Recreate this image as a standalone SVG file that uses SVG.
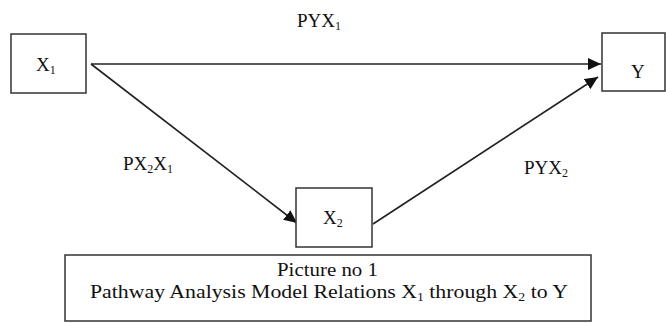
<svg xmlns="http://www.w3.org/2000/svg" width="666" height="323" viewBox="0 0 666 323">
<style>
.box{fill:#fff;stroke:#333;stroke-width:1.5}
.t{font-family:"Liberation Serif","Times New Roman",serif;font-size:19px;fill:#111}
.c{font-family:"Liberation Serif","Times New Roman",serif;font-size:19px;fill:#111}
.sub{font-size:12px}
.edge{stroke:#222;stroke-width:1.6;fill:none;marker-end:url(#ah)}
</style>
<defs>
<marker id="ah" markerUnits="userSpaceOnUse" markerWidth="14" markerHeight="12" refX="13" refY="6" orient="auto">
<path d="M0,0 L13,6 L0,12 z" fill="#111"/>
</marker>
</defs>
<rect width="666" height="323" fill="#fff"/>
<g id="connectors">
<line class="edge" x1="91" y1="64" x2="601" y2="64"/>
<line class="edge" x1="91" y1="64" x2="297" y2="223"/>
<line class="edge" x1="373" y1="224" x2="598" y2="77"/>
<text class="t" x="297" y="27">PYX<tspan class="sub" dy="3">1</tspan></text>
<text class="t" x="123" y="170">PX<tspan class="sub" dy="3">2</tspan><tspan dy="-3">X</tspan><tspan class="sub" dy="3">1</tspan></text>
<text class="t" x="524" y="174">PYX<tspan class="sub" dy="3">2</tspan></text>
</g>
<g id="node-x1">
<rect class="box" x="11" y="34" width="75" height="59"/>
<text class="t" x="36" y="71">X<tspan class="sub" dy="3">1</tspan></text>
</g>
<g id="node-y">
<rect class="box" x="602" y="33" width="63" height="58"/>
<text class="t" x="631" y="78">Y</text>
</g>
<g id="node-x2">
<rect class="box" x="296" y="188" width="76" height="59"/>
<text class="t" x="323" y="224">X<tspan class="sub" dy="3">2</tspan></text>
</g>
<g id="caption">
<rect class="box" x="65" y="255" width="526" height="66"/>
<text class="c" x="277" y="276" textLength="101" lengthAdjust="spacingAndGlyphs">Picture no 1</text>
<text class="c" x="90" y="298" textLength="478" lengthAdjust="spacingAndGlyphs">Pathway Analysis Model Relations X<tspan class="sub" dy="3">1</tspan><tspan dy="-3"> through X</tspan><tspan class="sub" dy="3">2</tspan><tspan dy="-3"> to Y</tspan></text>
</g>
</svg>
